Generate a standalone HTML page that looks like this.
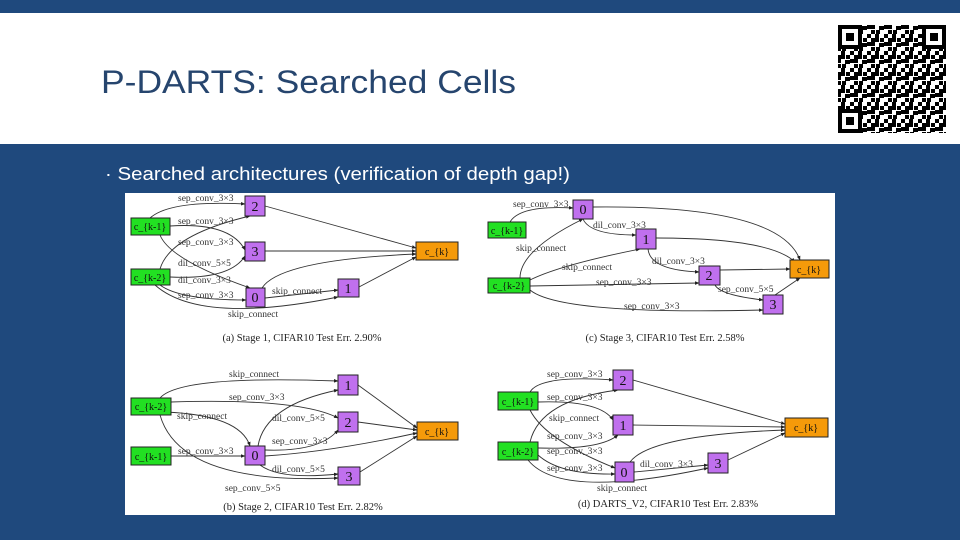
<!DOCTYPE html>
<html><head><meta charset="utf-8"><style>
html,body{margin:0;padding:0;width:960px;height:540px;overflow:hidden;background:#1f497d;}
svg{position:absolute;left:0;top:0}
</style></head><body>
<svg width="960" height="540" viewBox="0 0 960 540" xmlns="http://www.w3.org/2000/svg">
<defs>
<marker id="a" viewBox="0 0 10 10" refX="9" refY="5" markerWidth="5" markerHeight="5" orient="auto"><path d="M0,1 L10,5 L0,9 z" fill="#222"/></marker>
<pattern id="qr" width="17" height="17" patternUnits="userSpaceOnUse">
<rect width="17" height="17" fill="#fff"/>
<rect x="0" y="0" width="4" height="4" fill="#000"/><rect x="8" y="0" width="4" height="8" fill="#000"/>
<rect x="4" y="4" width="4" height="4" fill="#000"/><rect x="13" y="4" width="4" height="4" fill="#000"/>
<rect x="0" y="8" width="8" height="4" fill="#000"/><rect x="12" y="9" width="5" height="4" fill="#000"/>
<rect x="4" y="13" width="4" height="4" fill="#000"/><rect x="9" y="13" width="4" height="4" fill="#000"/>
</pattern>
</defs>
<rect x="0" y="13" width="960" height="131" fill="#fff"/>
<text x="101" y="93" font-family="Liberation Sans, sans-serif" font-size="32" fill="#26456e" textLength="415" lengthAdjust="spacingAndGlyphs">P-DARTS: Searched Cells</text>
<!-- QR -->
<rect x="838" y="25" width="108" height="108" fill="url(#qr)"/>
<g fill="none" stroke="#000" stroke-width="4">
<rect x="840" y="27" width="20" height="20" fill="#fff"/><rect x="924" y="27" width="20" height="20" fill="#fff"/><rect x="840" y="111" width="20" height="20" fill="#fff"/></g>
<rect x="846" y="33" width="8" height="8"/><rect x="930" y="33" width="8" height="8"/><rect x="846" y="117" width="8" height="8"/>
<text x="105" y="180" font-family="Liberation Sans, sans-serif" font-size="18" fill="#fff" textLength="465" lengthAdjust="spacingAndGlyphs">· Searched architectures (verification of depth gap!)</text>
<rect x="125" y="193" width="710" height="322" fill="#fff"/>

<g fill="none" stroke="#333" stroke-width="0.9" marker-end="url(#a)">
<path d="M150,218 Q170,200 245,204"/>
<path d="M170,226 Q230,222 245,250"/>
<path d="M160,269 Q170,235 250,216"/>
<path d="M160,235 Q170,260 250,288"/>
<path d="M170,277 Q230,280 245,256"/>
<path d="M160,285 Q180,300 246,300"/>
<path d="M155,285 Q200,325 338,297"/>
<path d="M265,298 L338,290"/>
<path d="M265,206 L416,248"/>
<path d="M265,251 L416,251"/>
<path d="M262,288 Q280,260 416,254"/>
<path d="M359,287 L416,257"/>
<path d="M510,222 Q520,205 573,208"/>
<path d="M520,278 Q520,250 583,219"/>
<path d="M530,280 Q560,265 640,249"/>
<path d="M530,286 L699,283"/>
<path d="M530,290 Q560,315 763,310"/>
<path d="M583,219 Q590,235 636,235"/>
<path d="M648,249 Q650,270 699,272"/>
<path d="M715,285 Q720,295 763,300"/>
<path d="M593,207 Q780,205 800,260"/>
<path d="M656,238 Q770,238 795,262"/>
<path d="M720,270 L790,269"/>
<path d="M775,295 L800,278"/>
<path d="M160,398 Q180,375 338,381"/>
<path d="M171,402 Q300,398 338,418"/>
<path d="M165,412 Q240,415 250,446"/>
<path d="M171,456 L245,456"/>
<path d="M160,415 Q180,485 338,478"/>
<path d="M258,446 Q265,405 338,390"/>
<path d="M265,450 Q320,452 338,430"/>
<path d="M260,465 Q280,480 338,474"/>
<path d="M358,385 L417,428"/>
<path d="M358,422 L417,430"/>
<path d="M265,456 Q330,452 417,433"/>
<path d="M360,472 L417,436"/>
<path d="M530,392 Q540,375 613,380"/>
<path d="M538,402 Q600,400 613,420"/>
<path d="M530,442 Q540,400 618,390"/>
<path d="M530,410 Q545,440 615,468"/>
<path d="M538,448 Q600,450 618,435"/>
<path d="M538,455 Q560,475 615,474"/>
<path d="M528,460 Q560,500 708,468"/>
<path d="M634,472 L708,465"/>
<path d="M633,380 L785,424"/>
<path d="M633,425 L785,427"/>
<path d="M630,462 Q650,435 785,430"/>
<path d="M728,460 L785,433"/>
</g>

<g font-family="Liberation Serif, serif" font-size="9.5" fill="#333">
<text x="178" y="201">sep_conv_3×3</text><text x="178" y="224">sep_conv_3×3</text>
<text x="178" y="245">sep_conv_3×3</text><text x="178" y="266">dil_conv_5×5</text>
<text x="178" y="283">dil_conv_3×3</text><text x="178" y="298">sep_conv_3×3</text>
<text x="272" y="294">skip_connect</text><text x="228" y="317">skip_connect</text>
<text x="513" y="207">sep_conv_3×3</text><text x="593" y="228">dil_conv_3×3</text>
<text x="516" y="251">skip_connect</text><text x="562" y="270">skip_connect</text>
<text x="652" y="264">dil_conv_3×3</text><text x="596" y="285">sep_conv_3×3</text>
<text x="718" y="292">sep_conv_5×5</text><text x="624" y="309">sep_conv_3×3</text>
<text x="229" y="377">skip_connect</text><text x="229" y="400">sep_conv_3×3</text>
<text x="177" y="419">skip_connect</text><text x="272" y="421">dil_conv_5×5</text>
<text x="272" y="444">sep_conv_3×3</text><text x="178" y="454">sep_conv_3×3</text>
<text x="272" y="472">dil_conv_5×5</text><text x="225" y="491">sep_conv_5×5</text>
<text x="547" y="377">sep_conv_3×3</text><text x="547" y="400">sep_conv_3×3</text>
<text x="549" y="421">skip_connect</text><text x="547" y="439">sep_conv_3×3</text>
<text x="547" y="454">sep_conv_3×3</text><text x="547" y="471">sep_conv_3×3</text>
<text x="640" y="467">dil_conv_3×3</text><text x="597" y="491">skip_connect</text>
</g>
<g font-family="Liberation Serif, serif" font-size="10.5" fill="#222" text-anchor="middle">
<text x="302" y="341">(a) Stage 1, CIFAR10 Test Err. 2.90%</text>
<text x="665" y="341">(c) Stage 3, CIFAR10 Test Err. 2.58%</text>
<text x="303" y="510">(b) Stage 2, CIFAR10 Test Err. 2.82%</text>
<text x="668" y="507">(d) DARTS_V2, CIFAR10 Test Err. 2.83%</text>
</g>

<g stroke="#222" stroke-width="1">
<g fill="#22e022">
<rect x="131" y="218" width="39" height="17"/><rect x="131" y="269" width="39" height="16"/>
<rect x="488" y="222" width="38" height="16"/><rect x="488" y="278" width="42" height="15"/>
<rect x="131" y="398" width="40" height="17"/><rect x="131" y="447" width="40" height="18"/>
<rect x="498" y="392" width="40" height="18"/><rect x="498" y="442" width="40" height="18"/>
</g>
<g fill="#c070ee">
<rect x="245" y="196" width="20" height="20"/><rect x="245" y="242" width="20" height="19"/>
<rect x="246" y="288" width="19" height="19"/><rect x="338" y="279" width="21" height="18"/>
<rect x="573" y="200" width="20" height="19"/><rect x="636" y="229" width="20" height="20"/>
<rect x="699" y="266" width="21" height="19"/><rect x="763" y="295" width="20" height="19"/>
<rect x="245" y="446" width="20" height="19"/><rect x="338" y="375" width="20" height="20"/>
<rect x="338" y="412" width="20" height="20"/><rect x="338" y="467" width="22" height="18"/>
<rect x="613" y="370" width="20" height="20"/><rect x="613" y="415" width="20" height="20"/>
<rect x="615" y="462" width="19" height="20"/><rect x="708" y="453" width="20" height="20"/>
</g>
<g fill="#f59a0a">
<rect x="416" y="242" width="42" height="18"/><rect x="790" y="260" width="39" height="18"/>
<rect x="417" y="422" width="41" height="18"/><rect x="785" y="418" width="43" height="19"/>
</g>
</g>
<g font-family="Liberation Serif, serif" font-size="10" fill="#111" text-anchor="middle">
<text x="150" y="230">c_{k-1}</text><text x="150" y="281">c_{k-2}</text>
<text x="507" y="234">c_{k-1}</text><text x="509" y="289">c_{k-2}</text>
<text x="151" y="410">c_{k-2}</text><text x="151" y="460">c_{k-1}</text>
<text x="518" y="405">c_{k-1}</text><text x="518" y="455">c_{k-2}</text>
<text x="437" y="255">c_{k}</text><text x="809" y="273">c_{k}</text>
<text x="437" y="435">c_{k}</text><text x="806" y="431">c_{k}</text>
</g>
<g font-family="Liberation Serif, serif" font-size="14" fill="#111" text-anchor="middle">
<text x="255" y="211">2</text><text x="255" y="256">3</text><text x="255" y="302">0</text><text x="348" y="293">1</text>
<text x="583" y="214">0</text><text x="646" y="244">1</text><text x="709" y="280">2</text><text x="773" y="309">3</text>
<text x="255" y="460">0</text><text x="348" y="390">1</text><text x="348" y="427">2</text><text x="349" y="481">3</text>
<text x="623" y="385">2</text><text x="623" y="430">1</text><text x="624" y="477">0</text><text x="718" y="468">3</text>
</g>
</svg>
</body></html>
